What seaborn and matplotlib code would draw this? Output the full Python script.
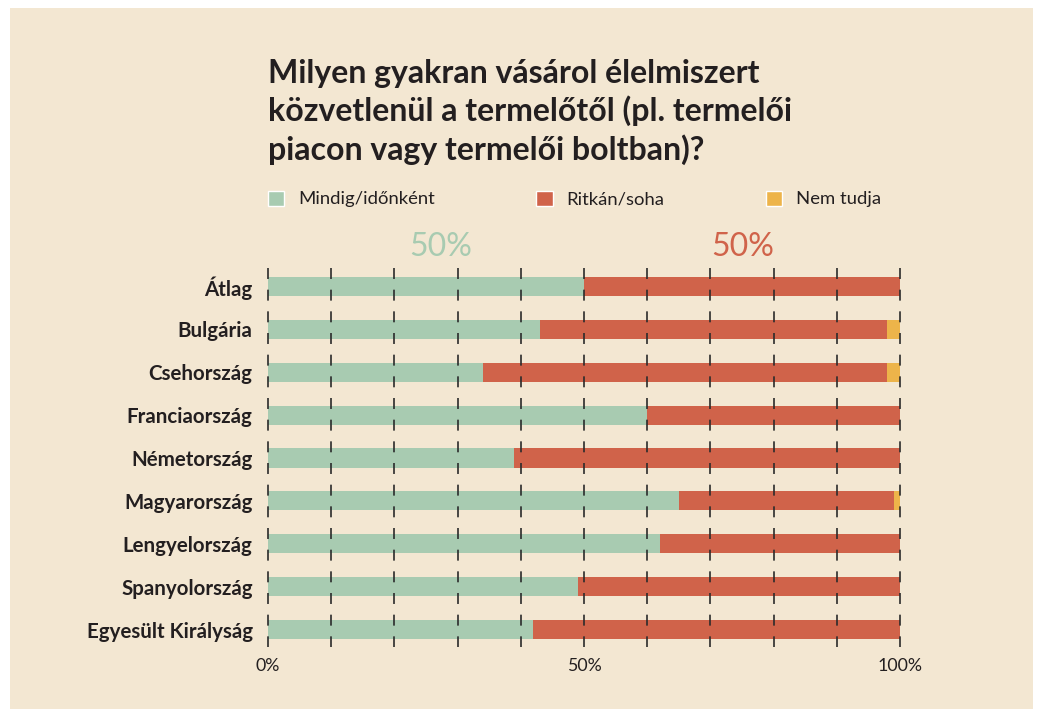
import pandas as pd
import matplotlib.pyplot as plt
import seaborn as sns
from matplotlib.patches import Patch, Rectangle

# adatok (százalék)
orszagok = ['Átlag', 'Bulgária', 'Csehország', 'Franciaország', 'Németország',
            'Magyarország', 'Lengyelország', 'Spanyolország', 'Egyesült Királyság']
mindig = [50, 43, 34, 60, 39, 65, 62, 49, 42]
ritkan = [50, 55, 64, 40, 61, 34, 38, 51, 58]
nem_tudja = [0, 2, 2, 0, 0, 1, 0, 0, 0]

zold = '#A8CBB1'
piros = '#D0634A'
sarga = '#EDB44A'
hatter = '#F3E7D2'
szoveg = '#231F20'

df = pd.DataFrame({'orszag': orszagok, 'mindig': mindig,
                   'ritkan': ritkan, 'nem_tudja': nem_tudja})
df['r_cum'] = df['mindig'] + df['ritkan']
df['n_cum'] = df['r_cum'] + df['nem_tudja']

sns.set_style('white')
plt.rcParams['font.family'] = ['Lato', 'DejaVu Sans']
plt.rcParams['lines.scale_dashes'] = False

fig = plt.figure(figsize=(10.38, 7.09), dpi=100, facecolor='white')
fig.patches.append(Rectangle((10 / 1038, 0), 1023 / 1038, 701 / 709,
                             transform=fig.transFigure, facecolor=hatter,
                             edgecolor='none', zorder=-10))

ax = fig.add_axes([268 / 1038, 58 / 709, 632 / 1038, 386 / 709])
ax.set_facecolor('none')

# egymásra rakott sávok (kumulatív)
for oszlop, szin in [('n_cum', sarga), ('r_cum', piros), ('mindig', zold)]:
    sns.barplot(data=df, x=oszlop, y='orszag', orient='h', color=szin,
                width=0.445, saturation=1, linewidth=0, ax=ax)

ax.set_xlim(0, 100)
ax.set_ylim(8.5, -0.5)

# szaggatott rácsvonalak
for x in range(0, 101, 10):
    ax.plot([x, x], [-0.427, 8.41], color='#2b2b2b', lw=1.2,
            dashes=(7.9, 7.7), zorder=5, clip_on=False)

for s in ax.spines.values():
    s.set_visible(False)
ax.set_xlabel('')
ax.set_ylabel('')
ax.set_xticks([0, 50, 100])
ax.set_xticklabels(['0%', '50%', '100%'])
ax.tick_params(axis='x', length=0, pad=5, labelsize=12.8, labelcolor=szoveg)
ax.tick_params(axis='y', length=0, pad=11, labelsize=14.8, labelcolor=szoveg)
for t in ax.get_yticklabels():
    t.set_fontweight('bold')

# 50% feliratok
fig.text(441 / 1038, 1 - 247 / 709, '50%', color=zold, fontsize=23,
         ha='center', va='center')
fig.text(743 / 1038, 1 - 247 / 709, '50%', color=piros, fontsize=23,
         ha='center', va='center')

# cím
fig.text(268 / 1038, 1 - 59 / 709,
         'Milyen gyakran vásárol élelmiszert\n'
         'közvetlenül a termelőtől (pl. termelői\n'
         'piacon vagy termelői boltban)?',
         fontsize=23, fontweight='bold', color=szoveg, ha='left', va='top',
         linespacing=1.3)

# jelmagyarázat
kezelok = [Patch(facecolor=zold, label='Mindig/időnként'),
           Patch(facecolor=piros, label='Ritkán/soha'),
           Patch(facecolor=sarga, label='Nem tudja')]
fig.legend(handles=kezelok, loc='center left',
           bbox_to_anchor=(268 / 1038, 1 - 199 / 709), ncol=3, frameon=False,
           fontsize=13.3, handlelength=0.87, handleheight=0.87,
           handletextpad=0.76, columnspacing=5.5, borderpad=0,
           borderaxespad=0, labelcolor=szoveg)

fig.savefig('out.png', dpi=100, facecolor='white')
